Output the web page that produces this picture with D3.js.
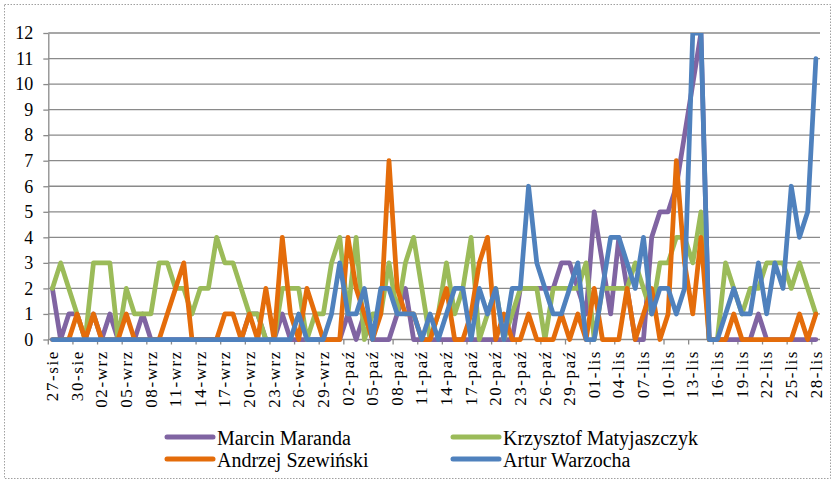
<!DOCTYPE html>
<html>
<head>
<meta charset="utf-8">
<script src="https://cdnjs.cloudflare.com/ajax/libs/d3/7.8.5/d3.min.js"></script>
<style>
	body { margin: 0; background: #fff; }
	svg { display: block; }
</style>
</head>
<body>
<svg id="chart" width="835" height="483"></svg>
<script>
// one category per day, 27 Aug - 28 Nov
var days = [
	"27-sie","28-sie","29-sie","30-sie","31-sie",
	"01-wrz","02-wrz","03-wrz","04-wrz","05-wrz","06-wrz","07-wrz","08-wrz","09-wrz","10-wrz",
	"11-wrz","12-wrz","13-wrz","14-wrz","15-wrz","16-wrz","17-wrz","18-wrz","19-wrz","20-wrz",
	"21-wrz","22-wrz","23-wrz","24-wrz","25-wrz","26-wrz","27-wrz","28-wrz","29-wrz","30-wrz",
	"01-paź","02-paź","03-paź","04-paź","05-paź","06-paź","07-paź","08-paź","09-paź","10-paź",
	"11-paź","12-paź","13-paź","14-paź","15-paź","16-paź","17-paź","18-paź","19-paź","20-paź",
	"21-paź","22-paź","23-paź","24-paź","25-paź","26-paź","27-paź","28-paź","29-paź","30-paź","31-paź",
	"01-lis","02-lis","03-lis","04-lis","05-lis","06-lis","07-lis","08-lis","09-lis","10-lis",
	"11-lis","12-lis","13-lis","14-lis","15-lis","16-lis","17-lis","18-lis","19-lis","20-lis",
	"21-lis","22-lis","23-lis","24-lis","25-lis","26-lis","27-lis","28-lis"
];

var maranda = [
	2,0,1,1,0,1,0,1,0,0,
	0,1,0,0,0,0,0,0,0,0,
	0,0,0,0,1,1,0,0,1,0,
	0,0,0,0,0,0,1,0,1,0,
	0,0,1,2,0,0,0,0,0,0,
	0,0,0,0,0,0,0,2,2,2,
	2,2,3,3,2,1,5,3,1,4,
	2,0,0,4,5,5,6,8,10,12,
	0,0,0,0,0,0,1,0,0,0,
	0,0,0,0
];
var matyjaszczyk = [
	2,3,2,1,0,3,3,3,0,2,
	1,1,1,3,3,2,2,1,2,2,
	4,3,3,2,1,1,0,0,2,2,
	2,0,1,1,3,4,1,4,0,1,
	1,3,1,3,4,2,0,1,3,1,
	2,4,0,1,2,0,1,2,2,2,
	0,2,2,2,2,3,0,2,2,2,
	2,3,2,1,3,3,4,4,3,5,
	0,0,3,2,1,2,2,3,3,3,
	2,3,2,1
];
var szewinski = [
	0,0,0,1,0,1,0,0,0,1,
	0,0,0,0,1,2,3,0,0,0,
	0,1,1,0,1,0,2,0,4,1,
	0,2,1,0,0,0,4,2,1,0,
	1,7,2,1,1,0,0,1,2,0,
	0,1,3,4,0,1,0,0,1,0,
	0,0,1,0,1,0,2,0,0,0,
	2,0,1,2,0,1,7,3,1,4,
	0,0,0,1,0,0,0,0,0,0,
	0,1,0,1
];
var warzocha = [
	0,0,0,0,0,0,0,0,0,0,
	0,0,0,0,0,0,0,0,0,0,
	0,0,0,0,0,0,0,0,0,0,
	1,0,0,0,1,3,1,1,2,0,
	2,2,1,1,1,0,1,0,1,2,
	2,0,2,1,2,0,2,2,6,3,
	2,1,1,2,3,0,0,2,4,4,
	3,2,4,1,2,2,1,2,12,12,
	0,0,1,2,1,1,3,1,3,2,
	6,4,5,11
];

var names = ["Marcin Maranda", "Krzysztof Matyjaszczyk", "Andrzej Szewiński", "Artur Warzocha"];
var colors = ["#8064A2", "#9BBB59", "#E46C0A", "#4F81BD"];
var yTicks = [0,1,2,3,4,5,6,7,8,9,10,11,12];

var svg = d3.select("#chart");
var plotLeft = 48.3, plotRight = 820, plotTop = 33, plotBottom = 339.5;
var axisColor = "#8a8a8a";
var serif = "'Liberation Serif'";

// dotted frame round the whole chart
svg.append("rect")
	.attr("x", 4.5).attr("y", 4.5)
	.attr("width", 826).attr("height", 474)
	.attr("fill", "none")
	.attr("stroke", "#a0a0a0")
	.attr("stroke-dasharray", "1.5,1.5");

var x = d3.scaleBand().domain(days).range([plotLeft, plotRight]);
var y = d3.scaleLinear().domain([0, 12]).range([plotBottom, plotTop]);

// horizontal gridlines
svg.append("g")
	.selectAll("line")
	.data(yTicks.slice(1))
	.enter().append("line")
	.attr("x1", plotLeft).attr("x2", plotRight)
	.attr("y1", function(d) { return y(d); })
	.attr("y2", function(d) { return y(d); })
	.attr("stroke", axisColor)
	.attr("stroke-width", 1.3);

// y axis
var yAxis = svg.append("g")
	.attr("transform", "translate(" + plotLeft + ",0)")
	.call(d3.axisLeft(y).tickValues(yTicks).tickSize(5).tickSizeOuter(0).tickPadding(10).tickFormat(d3.format("d")));
yAxis.selectAll("path, line").attr("stroke", axisColor).attr("stroke-width", 1.3);
yAxis.selectAll("text")
	.style("font-family", serif)
	.style("font-size", "18px")
	.attr("fill", "#000");

// x axis line + tick marks every 3rd category boundary
svg.append("line")
	.attr("x1", plotLeft).attr("x2", plotRight)
	.attr("y1", plotBottom).attr("y2", plotBottom)
	.attr("stroke", axisColor).attr("stroke-width", 1.3);

svg.append("g")
	.selectAll("line")
	.data(days.filter(function(d, i) { return i % 3 === 0; }))
	.enter().append("line")
	.attr("x1", function(d) { return x(d); })
	.attr("x2", function(d) { return x(d); })
	.attr("y1", plotBottom).attr("y2", plotBottom + 5)
	.attr("stroke", axisColor).attr("stroke-width", 1.3);

// x labels, rotated
var xAxis = svg.append("g")
	.attr("transform", "translate(0," + plotBottom + ")")
	.call(d3.axisBottom(x).tickValues(days.filter(function(d, i) { return i % 3 === 0; })).tickSize(0).tickPadding(0));
xAxis.select(".domain").remove();
xAxis.selectAll("text")
	.attr("transform", "rotate(-90)")
	.attr("x", -10.5)
	.attr("y", 0)
	.attr("dy", "0.33em")
	.attr("text-anchor", "end")
	.style("font-family", serif)
	.style("font-size", "17px")
	.style("letter-spacing", "1.6px")
	.attr("fill", "#000");

// series lines
svg.append("defs").append("clipPath").attr("id", "clipTop")
	.append("rect").attr("x", 0).attr("y", plotTop).attr("width", 835).attr("height", 483);

var line = d3.line()
	.x(function(d, i) { return x(days[i]) + x.bandwidth() / 2; })
	.y(function(d) { return y(d); });

var series = [maranda, matyjaszczyk, szewinski, warzocha];
svg.append("g")
	.attr("clip-path", "url(#clipTop)")
	.selectAll("path")
	.data(series)
	.enter().append("path")
	.attr("d", line)
	.attr("fill", "none")
	.attr("stroke", function(d, i) { return colors[i]; })
	.attr("stroke-width", 4.75)
	.attr("stroke-linejoin", "round")
	.attr("stroke-linecap", "round");

// legend, 2 columns x 2 rows
var legend = svg.append("g")
	.selectAll("g")
	.data(names)
	.enter().append("g")
	.attr("transform", function(d, i) {
		var col = i % 2, row = Math.floor(i / 2);
		return "translate(" + (col === 0 ? 167 : 453) + "," + (437 + row * 22) + ")";
	});

legend.append("line")
	.attr("x1", 0).attr("x2", 46)
	.attr("y1", 0).attr("y2", 0)
	.attr("stroke", function(d, i) { return colors[i]; })
	.attr("stroke-width", 5)
	.attr("stroke-linecap", "round");

legend.append("text")
	.attr("x", 50)
	.attr("y", 8)
	.style("font-family", serif)
	.style("font-size", "20px")
	.attr("fill", "#000")
	.text(function(d) { return d; });
</script>
</body>
</html>
